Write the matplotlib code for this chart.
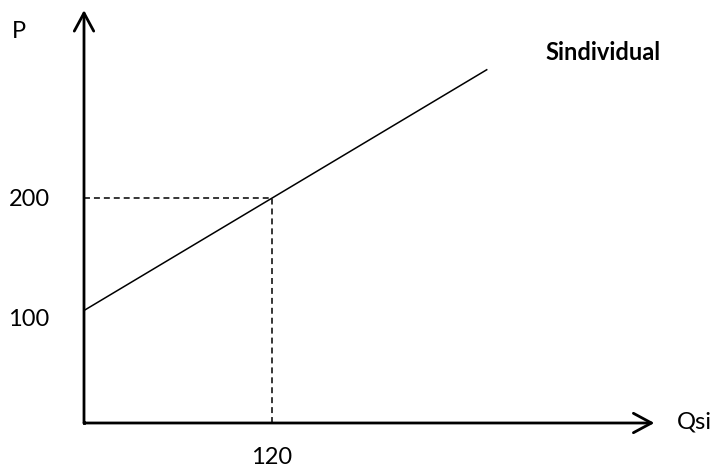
import numpy as np
import matplotlib.pyplot as plt

plt.rcParams['font.family'] = ['Lato', 'DejaVu Sans']

# supply curve (Q, P)
supply_q = [0, 257]
supply_p = [100, 314]
# marked point
point_q = 120
point_p = 200
p_ticks = [100, 200]
q_ticks = [120]
q_axis_end = 364
p_axis_end = 367

# pixel mapping: origin at (84, 423), 1.567 px per Q unit, 1.125 px per P unit
sx = 1.567
sy = 1.125
W, H = 711, 468
fig = plt.figure(figsize=(W / 100, H / 100), dpi=100)
ax = fig.add_axes([0, 0, 1, 1])
ax.set_xlim(-84 / sx, (W - 84) / sx)
ax.set_ylim(-(H - 423) / sy, 423 / sy)
ax.axis('off')

arrow = dict(arrowstyle='->,head_length=1.3,head_width=0.7', lw=2, color='k',
             mutation_scale=10, shrinkA=0, shrinkB=0)
ax.annotate('', xy=(0, p_axis_end), xytext=(0, 0), arrowprops=arrow)
ax.annotate('', xy=(q_axis_end, 0), xytext=(0, 0), arrowprops=arrow)
ax.plot([0, 0], [0, 1], color='k', lw=2, solid_capstyle='projecting')

ax.plot(supply_q, supply_p, color='k', lw=1.1)
ax.plot([0, point_q], [point_p, point_p], color='k', lw=1.1, ls=(0, (3.9, 2.6)))
ax.plot([point_q, point_q], [0, point_p], color='k', lw=1.1, ls=(0, (3.9, 2.6)))

fs = 17
ax.text(-55 / sx, p_ticks[1] - 2 / sy, str(p_ticks[1]), fontsize=fs, ha='center', va='center')
ax.text(-55 / sx, p_ticks[0] - 9 / sy, str(p_ticks[0]), fontsize=fs, ha='center', va='center')
ax.text(q_ticks[0], -34 / sy, str(q_ticks[0]), fontsize=fs, ha='center', va='center')
ax.text(-65 / sx, 391 / sy, 'P', fontsize=fs, ha='center', va='center')
ax.text(610 / sx, 1 / sy, 'Qsi', fontsize=fs, ha='center', va='center')
ax.text(519 / sx, 370 / sy, 'Sindividual', fontsize=fs, ha='center', va='center', fontweight='bold')

fig.savefig('out.png', dpi=100)
